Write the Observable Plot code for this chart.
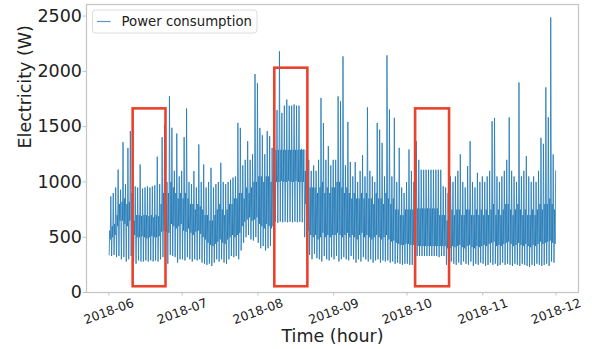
<!DOCTYPE html>
<html><head><meta charset="utf-8">
<script src="https://cdn.jsdelivr.net/npm/d3@7"></script>
<script src="https://cdn.jsdelivr.net/npm/@observablehq/plot@0.6"></script>
<style>body{margin:0;background:#fff;} svg{display:block}</style>
</head><body><div id="chart"></div>
<script>
// Daily summaries (W): minimum, top of dense band, bottom of dense band, daily peak
const dayLow = [
 340,330,340,320,330,300,320,280,300,330, 280,260,290,280,280,290,280,290,280,290, 280,300,320,300,260,340,330,320,270,300,
 300,290,320,300,280,300,290,300,270,260, 250,260,240,270,300,280,300,270,260,300, 330,320,330,300,380,450,500,520,480,470, 500,
 450,400,420,380,400,420,600,640,630,640, 635,640,635,640,635,640,635,640,635,500, 350,340,300,350,310,300,280,330,300,290, 320,
 300,330,280,300,320,300,290,330,300,270, 300,280,320,300,280,300,270,290,300,270, 290,280,290,270,280,260,270,260,250,260,
 260,250,250,320,330,330,330,330,330,330, 330,330,330,320,330,330,250,240,280,260, 250,270,250,280,260,250,280,240,260,250, 270,
 260,240,250,270,250,260,240,250,270,250, 260,250,240,260,250,240,260,250,240,230, 250,240,260,250,240,250,260,240,280,270
];
const dayHigh = [
 560,600,620,700,800,820,850,800,820,900, 650,700,700,690,700,700,690,700,680,700, 690,800,900,850,900,1000,950,900,850,900,
 850,900,850,800,800,750,800,780,750,700, 700,650,650,700,750,800,750,700,750,800, 800,850,850,900,900,850,950,900,950,1000, 1000,
 1050,1050,1000,1050,1050,1000,1100,1290,1290,1290, 1290,1290,1290,1290,1290,1290,1290,1290,1290,1100, 1000,950,950,950,900,950,1000,900,950,900, 950,
 950,1000,1000,950,900,950,900,850,900,850, 850,900,850,900,850,850,800,900,850,850, 800,900,850,800,850,750,750,700,700,750,
 750,750,750,760,760,760,760,760,760,760, 760,760,760,700,700,700,650,700,750,700, 750,750,700,700,750,750,700,700,750,700, 750,
 700,750,700,750,800,700,750,700,750,800, 800,750,700,750,800,750,700,750,700,700, 750,700,750,800,750,800,800,850,800,750
];
const dayMid = [
 480,500,520,600,650,650,620,600,650,700, 520,500,500,510,500,490,500,510,500,500, 510,550,560,550,540,620,600,580,600,620,
 560,550,580,540,520,550,560,530,500,480, 450,430,420,440,460,480,450,440,480,500, 520,500,520,540,600,640,660,680,650,660, 680,
 620,600,580,620,600,580,800,1000,1000,1010, 1000,1000,1010,1000,1000,1010,1000,1000,1000,800, 560,520,500,520,480,500,540,500,520,500, 520,
 520,540,520,500,520,540,500,520,500,480, 520,540,500,520,500,480,500,520,500,480, 500,520,480,460,470,450,440,430,430,440,
 440,430,430,430,420,420,420,420,420,420, 420,420,420,420,420,420,400,400,420,410, 420,430,410,400,420,430,410,400,420,410, 420,
 430,420,440,450,460,420,430,420,440,450, 460,440,420,430,450,430,420,440,420,410, 430,420,440,460,440,450,460,470,450,440
];
const dayPeak = [
 870,900,950,1112,930,1360,980,1308,1460,1050, 960,950,1158,940,950,960,950,960,970,1228, 980,1405,1514,1000,1775,1490,1100,1438,1050,1100,
 1405,1664,1000,980,1098,950,1339,1000,1158,950, 1000,1128,950,980,1000,1173,1000,980,1000,1020, 1040,1050,1534,1489,1150,1200,1369,1200,1250,1976, 1892,
 1489,1423,1250,1460,1414,1308,1250,1650,2182,1625, 1690,1745,1690,1690,1700,1690,1690,1300,1295,1290, 1200,1100,1150,1100,1200,1760,1533,1200,1324,1150, 1200,
 1200,1775,1730,2136,1150,1543,1180,1050,1180,1000, 1100,1243,1050,1675,1100,1050,1000,1533,1473,1353, 1050,2145,1655,1050,1580,1000,1309,950,900,1000,
 1294,1100,1000,1369,1200, 1110,1110,1110,1110,1110,1110,1110,1110,1110, 960,950,900, 1050,1000,1050,1100,1250,1000,950,1143,1369,1000,950,1083,1000,1050,
 1000,1050,1100,1549,1579,1050,1000,1050,1100,1200, 1585,1100,1050,1000,1900,1050,1100,1234,1050,1000, 1050,1000,1100,1399,1345,1856,1585,2488,1249,1100
];
const seriesStart = "2018-06-01T00:00Z";
const seriesEnd = "2018-12-01T00:00Z";
const monthTicks = ["2018-06-01","2018-07-01","2018-08-01","2018-09-01","2018-10-01","2018-11-01","2018-12-01"];
const monthLabels = ["2018-06","2018-07","2018-08","2018-09","2018-10","2018-11","2018-12"];
const yTicks = [0, 500, 1000, 1500, 2000, 2500];
const highlightStart = ["2018-06-10T22:30Z","2018-08-07T21:30Z","2018-10-04T12:00Z"];
const highlightEnd = ["2018-06-24T09:00Z","2018-08-21T10:00Z","2018-10-18T09:30Z"];
const highlightTop = [1661, 2029, 1661];
const highlightBottom = [52, 52, 52];

const hourSlots = [3, 9, 14, 19];
const t0 = Date.parse(seriesStart);
const points = [];
dayLow.forEach((lo, d) => {
  [lo, dayHigh[d], dayMid[d], dayPeak[d]].forEach((v, i) =>
    points.push({t: new Date(t0 + (d * 24 + hourSlots[i]) * 3600e3), v}));
});
const highlights = highlightStart.map((s, i) => ({
  start: new Date(s), end: new Date(highlightEnd[i]), top: highlightTop[i], bottom: highlightBottom[i]
}));
const monthDates = monthTicks.map(s => new Date(s + "T00:00Z"));
const monthRows = monthDates.map((d, i) => ({d, label: monthLabels[i]}));
const pad = 9.15 * 86400e3;

const chart = Plot.plot({
  width: 592, height: 349,
  marginLeft: 86, marginRight: 14, marginTop: 4, marginBottom: 57,
  style: {fontFamily: "DejaVu Sans", color: "#222", background: "#fff", overflow: "visible"},
  x: {type: "utc", domain: [new Date(t0 - pad), new Date(Date.parse(seriesEnd) + pad)], label: null},
  y: {domain: [0, 2605], label: null},
  marks: [
    Plot.line(points, {x: "t", y: "v", stroke: "#1f77b4", strokeWidth: 0.9, strokeOpacity: 0.88}),
    Plot.rect(highlights, {x1: "start", x2: "end", y1: "bottom", y2: "top", fill: "none", stroke: "#ea432d", strokeWidth: 2.6}),
    Plot.frame({stroke: "#c4c4c4", strokeWidth: 1.2}),
    Plot.axisY(yTicks, {tickSize: 3.5, tickPadding: 1, fontSize: 17.5, stroke: "#c4c4c4", label: null, tickFormat: d => String(d)}),
    Plot.axisX(monthDates, {tickSize: 3.5, stroke: "#c4c4c4", tickFormat: () => "", label: null}),
    Plot.text(monthRows, {x: "d", text: "label", frameAnchor: "bottom", dy: 19, rotate: -20, fontSize: 12.5, textAnchor: "middle", lineAnchor: "middle", fill: "#222"}),
    Plot.text(["Time (hour)"], {text: d => d, frameAnchor: "bottom", dy: 44, fontSize: 17.5, lineAnchor: "middle", fill: "#222"}),
    Plot.text(["Electricity (W)"], {text: d => d, frameAnchor: "left", dx: -61, rotate: -90, fontSize: 17.5, lineAnchor: "middle", fill: "#222"})
  ]
});
document.getElementById("chart").appendChild(chart);

// legend box (matplotlib style)
const svg = d3.select(chart);
const g = svg.append("g");
g.append("rect").attr("x", 92.5).attr("y", 10).attr("width", 164.5).attr("height", 23).attr("rx", 3)
  .attr("fill", "#fff").attr("fill-opacity", 0.8).attr("stroke", "#dcdcdc");
g.append("line").attr("x1", 97).attr("x2", 110.5).attr("y1", 21.5).attr("y2", 21.5)
  .attr("stroke", "#1f77b4").attr("stroke-opacity", 0.75).attr("stroke-width", 1.2);
g.append("text").attr("x", 121.5).attr("y", 21.5).attr("dy", "0.35em").attr("font-size", 13.3)
  .attr("text-anchor", "start").attr("fill", "#222").attr("font-family", "DejaVu Sans").text("Power consumption");
</script></body></html>
